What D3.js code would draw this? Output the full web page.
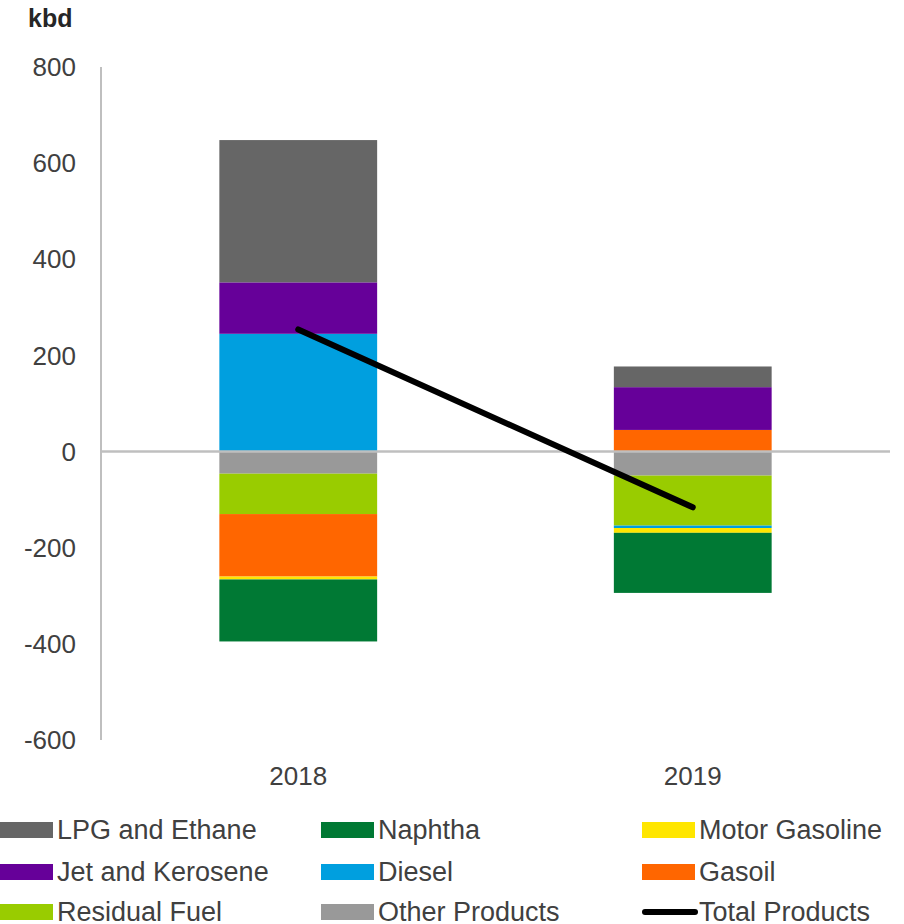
<!DOCTYPE html>
<html>
<head>
<meta charset="utf-8">
<script src="https://cdn.jsdelivr.net/npm/d3@7"></script>
<style>
  body { margin: 0; background: #fff; }
  text { font-family: "Liberation Sans", Arial, sans-serif; fill: #404040; }
</style>
</head>
<body>
<div id="chart"></div>
<script>
const years = ["2018", "2019"];
const lpg = [296, 43];
const naphtha = [-129, -125];
const motorGasoline = [-6, -10];
const jetKerosene = [107, 89];
const diesel = [245, -5];
const gasoil = [-130, 45];
const residualFuel = [-84, -104];
const otherProducts = [-46, -50];
const totalProducts = [254, -116];
const yTicks = [-600, -400, -200, 0, 200, 400, 600, 800];

// stacking order (closest to zero first)
const series = [
  { key: "Other Products", values: otherProducts, color: "#999999" },
  { key: "Residual Fuel", values: residualFuel, color: "#99cc00" },
  { key: "Gasoil", values: gasoil, color: "#ff6600" },
  { key: "Diesel", values: diesel, color: "#009fdf" },
  { key: "Motor Gasoline", values: motorGasoline, color: "#ffe600" },
  { key: "Naphtha", values: naphtha, color: "#007934" },
  { key: "Jet and Kerosene", values: jetKerosene, color: "#660099" },
  { key: "LPG and Ethane", values: lpg, color: "#666666" }
];
const colorOf = {};
series.forEach(s => colorOf[s.key] = s.color);

const legendOrder = [
  "LPG and Ethane", "Naphtha", "Motor Gasoline",
  "Jet and Kerosene", "Diesel", "Gasoil",
  "Residual Fuel", "Other Products", "Total Products"
];

const width = 904, height = 924;
const svg = d3.select("#chart").append("svg")
  .attr("width", width).attr("height", height);

const x = d3.scaleBand().domain(years).range([101, 890])
  .paddingInner(0.6).paddingOuter(0.3);
const y = d3.scaleLinear().domain([-600, 800]).range([740, 67]);

const rows = years.map((yr, i) => {
  const r = { year: yr };
  series.forEach(s => r[s.key] = s.values[i]);
  return r;
});
const stacked = d3.stack().keys(series.map(s => s.key))
  .offset(d3.stackOffsetDiverging)(rows);

// bars
svg.append("g").selectAll("g").data(stacked).join("g")
  .attr("fill", d => colorOf[d.key])
  .selectAll("rect").data(d => d).join("rect")
    .attr("x", d => x(d.data.year))
    .attr("width", x.bandwidth())
    .attr("y", d => y(Math.max(d[0], d[1])))
    .attr("height", d => Math.abs(y(d[0]) - y(d[1])));

// axes
svg.append("line")
  .attr("x1", 101).attr("x2", 101)
  .attr("y1", y(800)).attr("y2", y(-600))
  .attr("stroke", "#bfbfbf").attr("stroke-width", 2);
svg.append("line")
  .attr("x1", 101).attr("x2", 890)
  .attr("y1", y(0)).attr("y2", y(0))
  .attr("stroke", "#bfbfbf").attr("stroke-width", 2.5);

svg.append("g").selectAll("text").data(yTicks).join("text")
  .attr("x", 76).attr("y", d => y(d))
  .attr("dy", "0.35em")
  .attr("text-anchor", "end")
  .attr("font-size", 26)
  .text(d => d);

svg.append("g").selectAll("text").data(years).join("text")
  .attr("x", d => x(d) + x.bandwidth() / 2).attr("y", 776)
  .attr("dy", "0.35em")
  .attr("text-anchor", "middle")
  .attr("font-size", 26)
  .text(d => d);

svg.append("text")
  .attr("x", 28).attr("y", 18).attr("dy", "0.35em")
  .attr("font-size", 25).attr("font-weight", "bold")
  .style("fill", "#262626")
  .text("kbd");

// total line
const line = d3.line()
  .x((d, i) => x(years[i]) + x.bandwidth() / 2)
  .y(d => y(d));
svg.append("path")
  .datum(totalProducts)
  .attr("d", line)
  .attr("fill", "none")
  .attr("stroke", "#000")
  .attr("stroke-width", 6)
  .attr("stroke-linecap", "round");

// legend
const colX = [0, 321, 642];
const rowY = [830, 872, 912];
const legend = svg.append("g").selectAll("g").data(legendOrder).join("g")
  .attr("transform", (d, i) => `translate(${colX[i % 3]},${rowY[Math.floor(i / 3)]})`);
legend.each(function(d) {
  const g = d3.select(this);
  if (d === "Total Products") {
    g.append("line").attr("x1", 3).attr("x2", 53).attr("y1", 0).attr("y2", 0)
      .attr("stroke", "#000").attr("stroke-width", 6).attr("stroke-linecap", "round");
  } else {
    g.append("rect").attr("x", 0).attr("y", -8).attr("width", 53).attr("height", 16)
      .attr("fill", colorOf[d]);
  }
  g.append("text").attr("x", 57).attr("dy", "0.35em")
    .attr("font-size", 27).text(d);
});
</script>
</body>
</html>
